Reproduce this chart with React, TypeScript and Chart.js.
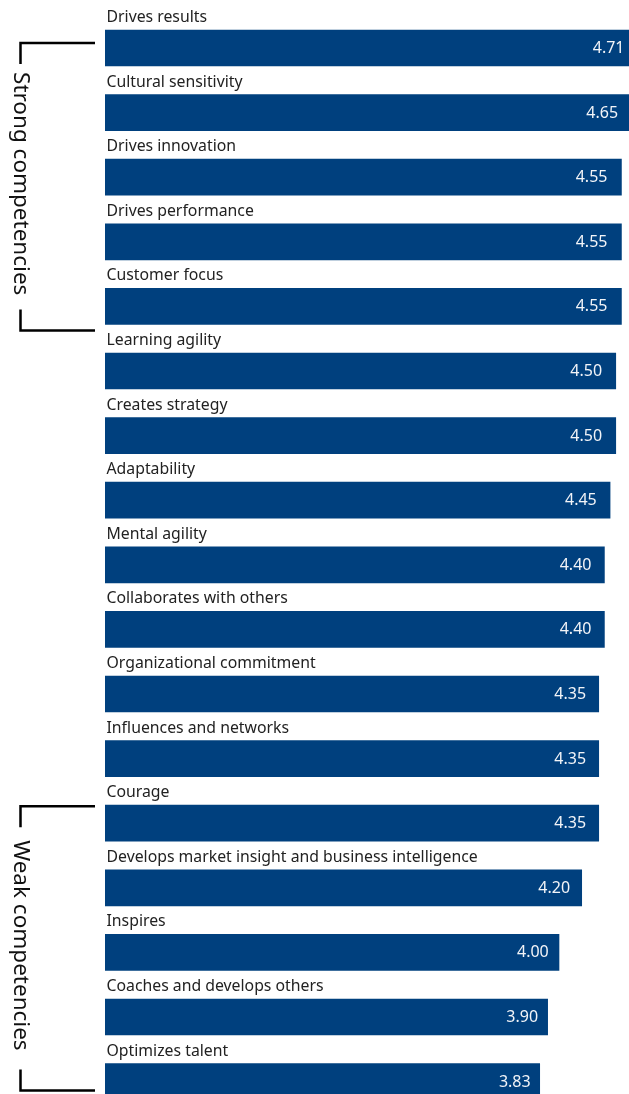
import React, { useEffect, useRef } from "react";
import { Chart, registerables } from "chart.js";

Chart.register(...registerables);

const categories = [
  "Drives results",
  "Cultural sensitivity",
  "Drives innovation",
  "Drives performance",
  "Customer focus",
  "Learning agility",
  "Creates strategy",
  "Adaptability",
  "Mental agility",
  "Collaborates with others",
  "Organizational commitment",
  "Influences and networks",
  "Courage",
  "Develops market insight and business intelligence",
  "Inspires",
  "Coaches and develops others",
  "Optimizes talent",
];
const scores = [4.71, 4.65, 4.55, 4.55, 4.55, 4.5, 4.5, 4.45, 4.4, 4.4, 4.35, 4.35, 4.35, 4.2, 4.0, 3.9, 3.83];
const valueLabels = scores.map((v) => v.toFixed(2));
const groupLabels = ["Strong competencies", "Weak competencies"];
const groupFirst = [0, 12];
const groupLast = [4, 16];

const FONT = '"Noto Sans", sans-serif';
const BAR = "#00407e";

const W = 700;
const H = 1130;

const overlay = {
  id: "overlay",
  afterDraw(chart: any) {
    const ctx = chart.ctx;
    const meta = chart.getDatasetMeta(0);
    const xs = chart.scales.x;
    ctx.save();
    meta.data.forEach((bar: any, i: number) => {
      const top = bar.y - bar.height / 2;
      ctx.font = `15.8px ${FONT}`;
      ctx.fillStyle = "#222222";
      ctx.textAlign = "left";
      ctx.textBaseline = "alphabetic";
      ctx.fillText(categories[i], chart.chartArea.left + 1.5, top - 8);
      ctx.font = `16px ${FONT}`;
      ctx.fillStyle = "#f2f4f8";
      ctx.textAlign = "right";
      ctx.textBaseline = "middle";
      ctx.fillText(valueLabels[i], xs.getPixelForValue(scores[i] * 0.94) + 17, bar.y + 0.5);
    });
    // brackets
    const lineX = 20.5;
    const armEnd = 95;
    const nudgesTop = [-5, -17];
    const nudgesBottom = [24, 9];
    groupLabels.forEach((label, g) => {
      const y0 = meta.data[groupFirst[g]].y + nudgesTop[g];
      const y1 = meta.data[groupLast[g]].y + nudgesBottom[g];
      const seg = 21;
      ctx.strokeStyle = "#000000";
      ctx.lineWidth = 2.5;
      ctx.lineCap = "butt";
      ctx.beginPath();
      ctx.moveTo(armEnd, y0);
      ctx.lineTo(lineX, y0);
      ctx.lineTo(lineX, y0 + seg);
      ctx.moveTo(lineX, y1 - seg);
      ctx.lineTo(lineX, y1);
      ctx.lineTo(armEnd, y1);
      ctx.stroke();
      const mid = (y0 + y1) / 2 - 3;
      ctx.save();
      ctx.translate(lineX, mid);
      ctx.rotate(Math.PI / 2);
      ctx.font = `22.5px ${FONT}`;
      ctx.fillStyle = "#111111";
      ctx.textAlign = "center";
      ctx.textBaseline = "middle";
      ctx.fillText(label, 0, 0);
      ctx.restore();
    });
    ctx.restore();
  },
};

export default function App() {
  const ref = useRef<HTMLCanvasElement | null>(null);
  useEffect(() => {
    if (!ref.current) return;
    const chart = new Chart(ref.current, {
      type: "bar",
      data: {
        labels: categories,
        datasets: [
          {
            data: scores,
            backgroundColor: BAR,
            borderWidth: 0,
            barThickness: 36,
          },
        ],
      },
      options: {
        indexAxis: "y",
        responsive: false,
        animation: false,
        devicePixelRatio: 1,
        layout: { padding: { left: 105, right: 27.5, top: 15.7, bottom: 16.1 } },
        plugins: { legend: { display: false }, tooltip: { enabled: false } },
        scales: {
          x: { display: false, min: 0, max: 5 },
          y: { display: false },
        },
      },
      plugins: [overlay],
    });
    return () => chart.destroy();
  }, []);
  return (
    <div style={{ position: "absolute", left: 0, top: 0, width: 629, height: 1094, overflow: "hidden", background: "#fff" }}>
      <canvas ref={ref} width={W} height={H} style={{ width: W, height: H, display: "block" }} />
    </div>
  );
}
